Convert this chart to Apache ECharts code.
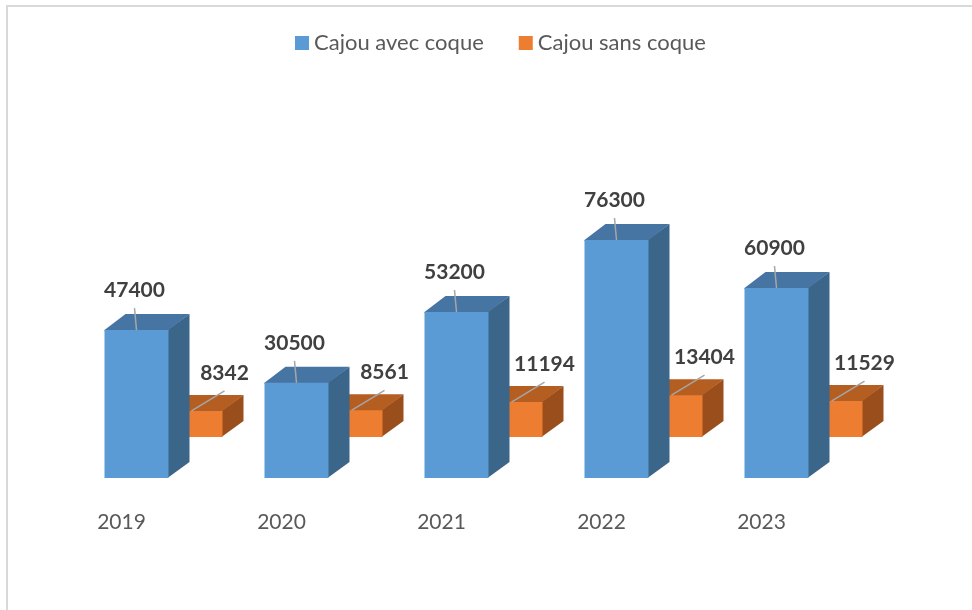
<!DOCTYPE html>
<html>
<head>
<meta charset="utf-8">
<script src="https://cdn.jsdelivr.net/npm/echarts@6/dist/echarts.min.js"></script>
<style>
  html, body { margin: 0; padding: 0; background: #fff; }
  #chart { width: 972px; height: 610px; }
</style>
</head>
<body>
<div id="chart"></div>
<script>
const years = ['2019', '2020', '2021', '2022', '2023']
const avecCoque = [47400, 30500, 53200, 76300, 60900]
const sansCoque = [8342, 8561, 11194, 13404, 11529]
const seriesNames = ['Cajou avec coque', 'Cajou sans coque']

// 3d look: bar width, depth vector, offset of the back row
const BAR_W = 64
const FRONT_OFF = -17
const DEPTH = [21, -16]
const BACK_ROW = [54, -41]

const chart = echarts.init(document.getElementById('chart'))

const makeRender = (shift, colors, back) => (params, api) => {
  const i = api.value(0)
  const v = api.value(1)
  const base = api.coord([i, 0])
  const top = api.coord([i, v])
  const x0 = base[0] + FRONT_OFF + shift[0]
  const x1 = x0 + BAR_W
  const yb = base[1] + shift[1]
  const yt = top[1] + shift[1]
  const dx = DEPTH[0], dy = DEPTH[1]
  // back row: only the part right of the front bar is visible
  const fx = back ? x0 + 30 : x0
  const children = [
    {
      type: 'polygon',
      shape: { points: [[x1 - 1, yt], [x1 + dx, yt + dy], [x1 + dx, yb + dy], [x1 - 1, yb]] },
      style: { fill: colors.side }
    },
    {
      type: 'polygon',
      shape: { points: [[fx, yt + 1], [fx, yt], [x0 + dx, yt + dy], [x1 + dx, yt + dy], [x1, yt], [x1, yt + 1]] },
      style: { fill: colors.top }
    },
    {
      type: 'rect',
      shape: { x: fx, y: yt, width: x1 - fx, height: yb - yt },
      style: { fill: colors.front }
    }
  ]
  let lx, ly, lineFrom
  if (!back) {
    lx = (x0 + x1) / 2 - 2
    ly = yt - 40
    lineFrom = [(x0 + x1) / 2, yt]
  } else {
    lx = x1 + 2
    ly = yt - 38
    lineFrom = [x0 + 33, yt]
  }
  children.push({
    type: 'line',
    shape: { x1: lineFrom[0], y1: lineFrom[1], x2: lx, y2: ly + 18 },
    style: { stroke: '#a6a6a6', lineWidth: 1.5 }
  })
  children.push({
    type: 'text',
    style: {
      text: String(v),
      x: lx,
      y: ly,
      align: 'center',
      verticalAlign: 'middle',
      font: 'bold 21px Lato',
      fill: '#404040'
    }
  })
  return { type: 'group', children }
}

const option = {
  animation: false,
  backgroundColor: '#fff',
  graphic: [
    {
      type: 'rect',
      shape: { x: 7, y: 6, width: 1000, height: 700 },
      style: { fill: 'none', stroke: '#d9d9d9', lineWidth: 2 },
      silent: true
    }
  ],
  legend: {
    data: seriesNames,
    left: 290,
    top: 27,
    icon: 'rect',
    itemWidth: 14,
    itemHeight: 14,
    itemGap: 35,
    textStyle: { fontFamily: 'Lato', fontSize: 22, color: '#595959' }
  },
  grid: {
    left: 41.5,
    width: 800,
    top: 166,
    height: 312
  },
  xAxis: {
    type: 'category',
    data: years,
    axisLine: { show: false },
    axisTick: { show: false },
    axisLabel: { margin: 34, fontFamily: 'Lato', fontSize: 21, color: '#595959' }
  },
  yAxis: {
    type: 'value',
    min: 0,
    max: 100000,
    show: false,
    splitLine: { show: false }
  },
  series: [
    {
      name: seriesNames[0],
      type: 'custom',
      z: 3,
      itemStyle: { color: '#5b9bd5' },
      renderItem: makeRender([0, 0], { front: '#5b9bd5', top: '#4675a4', side: '#3b6589' }, false),
      data: avecCoque.map((v, i) => [i, v])
    },
    {
      name: seriesNames[1],
      type: 'custom',
      z: 2,
      itemStyle: { color: '#ed7d31' },
      renderItem: makeRender(BACK_ROW, { front: '#ed7d31', top: '#b55e22', side: '#994e1b' }, true),
      data: sansCoque.map((v, i) => [i, v])
    }
  ]
}

chart.setOption(option)
</script>
</body>
</html>
